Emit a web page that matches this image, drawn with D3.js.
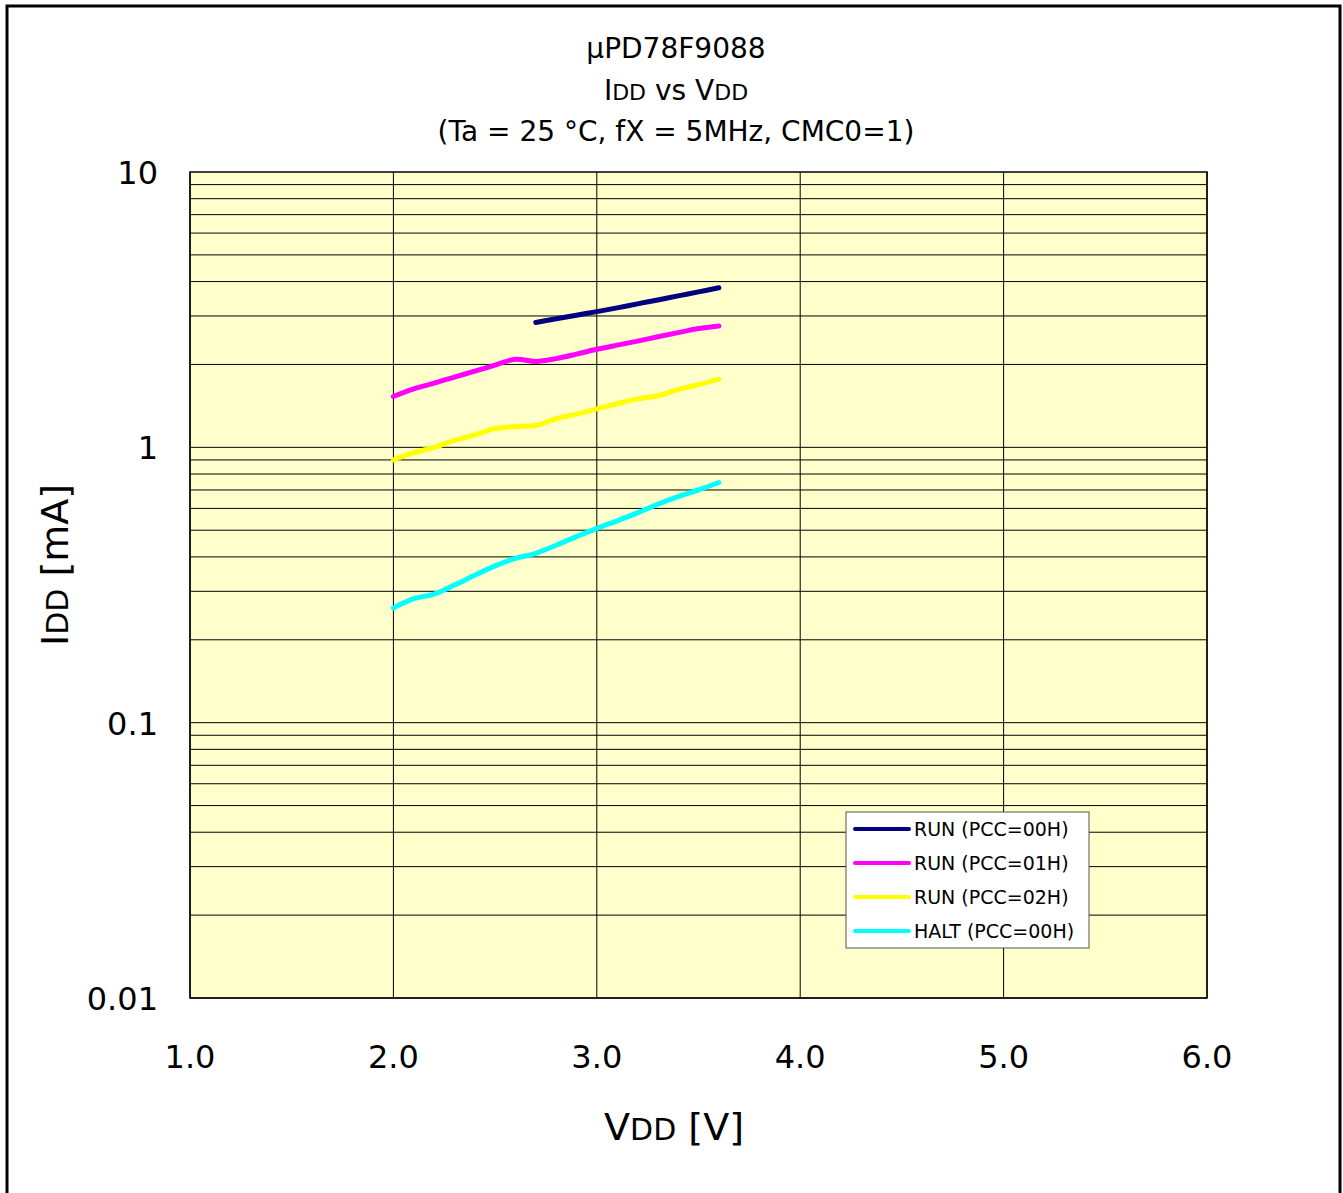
<!DOCTYPE html>
<html lang="en">
<head>
  <meta charset="UTF-8">
  <title>IDD vs VDD</title>
  <script src="https://d3js.org/d3.v7.min.js"></script>
  <style>
    html, body { margin: 0; padding: 0; background: #fff; }
    svg { display: block; font-family: "DejaVu Sans", Verdana, sans-serif; }
    .grid line { stroke: #000; stroke-width: 1; }
    .tick-label { fill: #000; }
  </style>
</head>
<body>
  <svg id="chart" width="1343" height="1193"></svg>
  <script>
    // Data (VDD in V, IDD in mA)
    const vdd = [2.0, 2.1, 2.2, 2.3, 2.4, 2.5, 2.6, 2.7, 2.8, 2.9, 3.0, 3.1, 3.2, 3.3, 3.4, 3.5, 3.6];
    const vddRun00 = [2.7, 2.8, 2.9, 3.0, 3.1, 3.2, 3.3, 3.4, 3.5, 3.6];
    const run00 = [2.84, 2.93, 3.02, 3.11, 3.21, 3.32, 3.43, 3.55, 3.67, 3.80];
    const run01 = [1.53, 1.63, 1.71, 1.80, 1.89, 1.99, 2.09, 2.05, 2.10, 2.18, 2.27, 2.35, 2.43, 2.52, 2.61, 2.70, 2.76];
    const run02 = [0.90, 0.956, 1.0, 1.06, 1.11, 1.17, 1.19, 1.20, 1.27, 1.32, 1.38, 1.44, 1.50, 1.54, 1.62, 1.69, 1.77];
    const halt00 = [0.261, 0.282, 0.293, 0.316, 0.343, 0.371, 0.395, 0.412, 0.441, 0.474, 0.508, 0.541, 0.578, 0.621, 0.662, 0.700, 0.745];

    const seriesNames = ["RUN (PCC=00H)", "RUN (PCC=01H)", "RUN (PCC=02H)", "HALT (PCC=00H)"];
    const seriesColors = ["#000080", "#ff00ff", "#ffff00", "#00ffff"];
    const xTicks = [1.0, 2.0, 3.0, 4.0, 5.0, 6.0];
    const yTicks = [10, 1, 0.1, 0.01];
    const yTickLabels = ["10", "1", "0.1", "0.01"];

    const series = [
      { x: vddRun00, y: run00 },
      { x: vdd, y: run01 },
      { x: vdd, y: run02 },
      { x: vdd, y: halt00 }
    ];

    const svg = d3.select("#chart");
    const plot = { left: 190, top: 172, right: 1207, bottom: 998 };

    const x = d3.scaleLinear().domain([1, 6]).range([plot.left, plot.right]);
    const y = d3.scaleLog().domain([0.01, 10]).range([plot.bottom, plot.top]);

    // Outer frame
    svg.append("rect")
      .attr("x", 7).attr("y", 6)
      .attr("width", 1333).attr("height", 1300)
      .attr("fill", "none").attr("stroke", "#000").attr("stroke-width", 3);

    // Plot background
    svg.append("rect")
      .attr("x", plot.left).attr("y", plot.top)
      .attr("width", plot.right - plot.left).attr("height", plot.bottom - plot.top)
      .attr("fill", "#ffffcc");

    // Grid lines
    const grid = svg.append("g").attr("class", "grid");
    const minorY = [];
    [0.01, 0.1, 1].forEach(d => { for (let k = 1; k < 10; k++) minorY.push(d * k); });
    grid.selectAll(".hy").data(minorY).enter().append("line")
      .attr("x1", plot.left).attr("x2", plot.right)
      .attr("y1", d => y(d)).attr("y2", d => y(d));
    grid.selectAll(".vx").data(xTicks).enter().append("line")
      .attr("y1", plot.top).attr("y2", plot.bottom)
      .attr("x1", d => x(d)).attr("x2", d => x(d));

    // Plot border
    svg.append("rect")
      .attr("x", plot.left).attr("y", plot.top)
      .attr("width", plot.right - plot.left).attr("height", plot.bottom - plot.top)
      .attr("fill", "none").attr("stroke", "#000").attr("stroke-width", 1.5);

    // Series lines
    const line = d3.line().curve(d3.curveCatmullRom.alpha(0.5));
    series.forEach((s, i) => {
      svg.append("path")
        .datum(s.x.map((v, j) => [x(v), y(s.y[j])]))
        .attr("d", line)
        .attr("fill", "none")
        .attr("stroke", seriesColors[i])
        .attr("stroke-width", 5)
        .attr("stroke-linecap", "round")
        .attr("stroke-linejoin", "round");
    });

    // Y tick labels
    svg.selectAll(".ylab").data(yTicks).enter().append("text")
      .attr("class", "tick-label")
      .attr("x", 158).attr("y", d => y(d) + 12)
      .attr("text-anchor", "end")
      .attr("font-size", 32)
      .text((d, i) => yTickLabels[i]);

    // X tick labels
    svg.selectAll(".xlab").data(xTicks).enter().append("text")
      .attr("class", "tick-label")
      .attr("x", d => x(d)).attr("y", 1068)
      .attr("text-anchor", "middle")
      .attr("font-size", 32)
      .text(d => d.toFixed(1));

    // Title
    svg.append("text").attr("text-anchor", "middle").attr("font-size", 28)
      .attr("x", 676).attr("y", 58).text("μPD78F9088");
    const t2 = svg.append("text").attr("text-anchor", "middle").attr("font-size", 28)
      .attr("x", 676).attr("y", 100);
    t2.append("tspan").text("I");
    t2.append("tspan").attr("font-size", 22).text("DD");
    t2.append("tspan").text(" vs V");
    t2.append("tspan").attr("font-size", 22).text("DD");
    svg.append("text").attr("text-anchor", "middle").attr("font-size", 28)
      .attr("x", 676).attr("y", 141)
      .text("(Ta = 25 °C, fX = 5MHz, CMC0=1)");

    // Axis titles
    const xt = svg.append("text").attr("text-anchor", "middle").attr("font-size", 38)
      .attr("x", 674).attr("y", 1140);
    xt.append("tspan").text("V");
    xt.append("tspan").attr("font-size", 30).text("DD");
    xt.append("tspan").text(" [V]");

    const yt = svg.append("text").attr("text-anchor", "middle").attr("font-size", 38)
      .attr("transform", "translate(68,565) rotate(-90)");
    yt.append("tspan").text("I");
    yt.append("tspan").attr("font-size", 30).text("DD");
    yt.append("tspan").text(" [mA]");

    // Legend
    const legend = svg.append("g").attr("transform", "translate(846,812)");
    legend.append("rect")
      .attr("width", 243).attr("height", 136)
      .attr("fill", "#fff").attr("stroke", "#555").attr("stroke-width", 1);
    seriesNames.forEach((name, i) => {
      const ly = 17 + i * 34;
      legend.append("line")
        .attr("x1", 9).attr("x2", 63).attr("y1", ly).attr("y2", ly)
        .attr("stroke", seriesColors[i]).attr("stroke-width", 4)
        .attr("stroke-linecap", "round");
      legend.append("text")
        .attr("x", 68).attr("y", ly + 7)
        .attr("font-size", 19)
        .text(name);
    });
  </script>
</body>
</html>
